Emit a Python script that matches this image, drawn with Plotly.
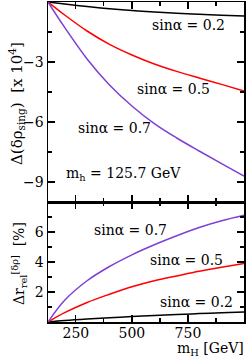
import plotly.graph_objects as go

# Data
mH = [125.7, 200, 300, 400, 500, 600, 700, 800, 900, 1000]

# Top panel: Delta(delta rho_sing) [x 10^4]
drho_02 = [0, -0.10, -0.23, -0.34, -0.43, -0.50, -0.56, -0.61, -0.66, -0.70]
drho_05 = [0, -0.65, -1.45, -2.12, -2.65, -3.10, -3.47, -3.80, -4.12, -4.45]
drho_07 = [0, -1.27, -2.85, -4.15, -5.20, -6.08, -6.80, -7.45, -8.08, -8.70]

# Bottom panel: Delta r_rel [%]
dr_02 = [0, 0.10, 0.20, 0.28, 0.36, 0.43, 0.50, 0.56, 0.62, 0.67]
dr_05 = [0, 0.62, 1.30, 1.85, 2.35, 2.75, 3.07, 3.38, 3.65, 3.90]
dr_07 = [0, 1.45, 2.75, 3.70, 4.48, 5.15, 5.75, 6.30, 6.75, 7.12]

x_ticks = [250, 500, 750]
y_top_ticks = [-9, -6, -3]
y_bot_ticks = [2, 4, 6]

BLACK = "#000000"
RED = "#ff0000"
PURPLE = "#7f3fd4"
FONT = "DejaVu Serif"

fig = go.Figure()
for y, c in [(drho_02, BLACK), (drho_05, RED), (drho_07, PURPLE)]:
    fig.add_trace(go.Scatter(x=mH, y=y, mode="lines", line=dict(color=c, width=1.5, shape="spline"),
                             xaxis="x2", yaxis="y2", showlegend=False, hoverinfo="skip"))
for y, c in [(dr_02, BLACK), (dr_05, RED), (dr_07, PURPLE)]:
    fig.add_trace(go.Scatter(x=mH, y=y, mode="lines", line=dict(color=c, width=1.5, shape="spline"),
                             xaxis="x", yaxis="y", showlegend=False, hoverinfo="skip"))

W, H = 250, 360
ml, mr, mt, mb = 48, 6, 2, 38
ph = H - mt - mb
split = (322 - 202) / ph

common_axis = dict(showline=True, linecolor="black", linewidth=1.5, mirror="ticks",
                   ticks="inside", ticklen=7, tickwidth=1.2, tickcolor="black",
                   showgrid=False, zeroline=False, automargin=False,
                   tickfont=dict(family=FONT, size=14, color="black"))
minor_x = dict(dtick=125, tick0=0, ticklen=4, tickwidth=1.2, tickcolor="black", ticks="inside", showgrid=False)

fig.update_layout(
    width=W, height=H,
    margin=dict(l=ml, r=mr, t=mt, b=mb, autoexpand=False),
    paper_bgcolor="white", plot_bgcolor="white",
    font=dict(family=FONT, size=14, color="black"),
    xaxis=dict(common_axis, range=[125.7, 1000], domain=[0, 1], anchor="y",
               tickmode="array", tickvals=x_ticks, minor=minor_x, ticklabelstandoff=-2),
    xaxis2=dict(common_axis, range=[125.7, 1000], domain=[0, 1], anchor="y2",
                tickmode="array", tickvals=x_ticks, showticklabels=False, minor=minor_x),
    yaxis=dict(common_axis, range=[0, 8], domain=[0, split], anchor="x",
               tickmode="array", tickvals=y_bot_ticks,
               minor=dict(dtick=1, tick0=0, ticklen=4, tickwidth=1.2, tickcolor="black", ticks="inside", showgrid=False)),
    yaxis2=dict(common_axis, range=[-10, 0], domain=[split, 1], anchor="x2",
                tickmode="array", tickvals=y_top_ticks,
                minor=dict(dtick=1.5, tick0=0, ticklen=4, tickwidth=1.2, tickcolor="black", ticks="inside", showgrid=False)),
)

def px_x(px):
    return (px - ml) / (W - ml - mr)

def px_y(py):
    return (H - mb - py) / ph

ann = []
def add(text, x, y, size=14, angle=0, xanchor="center", yanchor="middle"):
    ann.append(dict(text=text, x=px_x(x), y=px_y(y), xref="paper", yref="paper",
                    showarrow=False, xanchor=xanchor, yanchor=yanchor, textangle=angle,
                    font=dict(family=FONT, size=size, color="black")))

add("sinα = 0.2", 188, 25)
add("sinα = 0.5", 173, 89)
add("sinα = 0.7", 114, 128)
add("m<sub>h</sub> = 125.7 GeV", 123, 174)
add("sinα = 0.7", 130, 230)
add("sinα = 0.5", 186, 260)
add("sinα = 0.2", 196, 302)
add("Δ(δρ<sub>sing</sub>)  [x 10<sup>4</sup>]", 16, 104, size=15, angle=-90)
add("Δr<sub>rel</sub><sup>[δρ]</sup>  [%]", 19, 264, angle=-90)
add("m<sub>H</sub> [GeV]", 246, 360, xanchor="right", yanchor="bottom")
fig.update_layout(annotations=ann)

fig.write_html("out.html", config={"displayModeBar": False, "staticPlot": True},
               post_script="document.body.style.margin='0';document.body.style.overflow='hidden';")
